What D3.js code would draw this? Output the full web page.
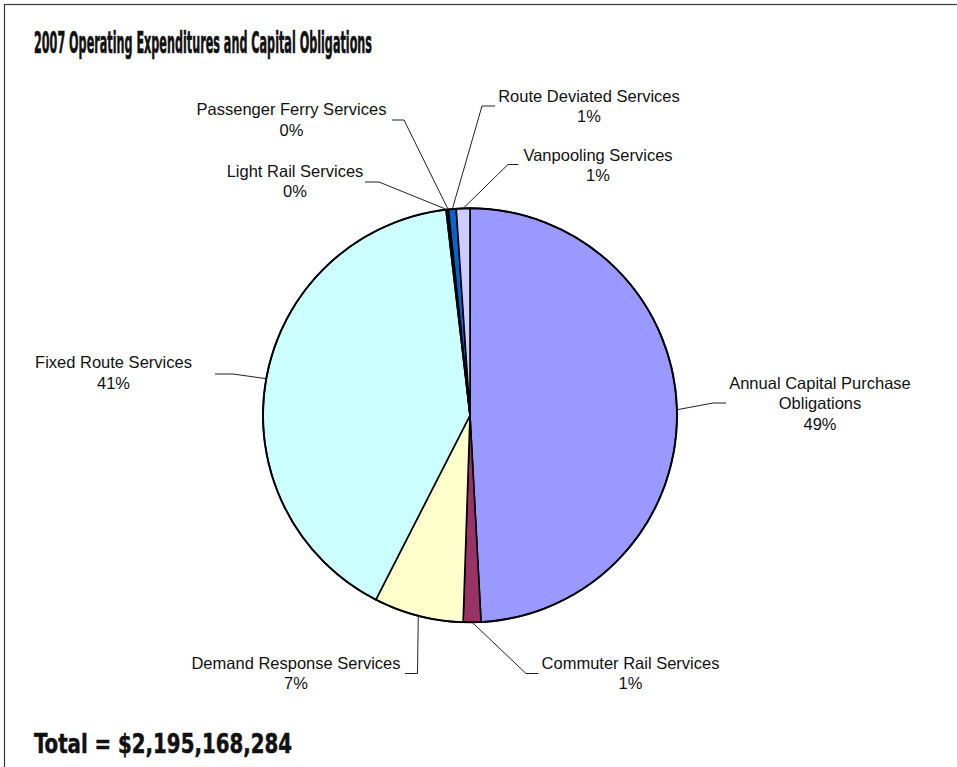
<!DOCTYPE html>
<html>
<head>
<meta charset="utf-8">
<script src="https://cdn.jsdelivr.net/npm/d3@7"></script>
<style>
  html, body { margin: 0; padding: 0; background: #fff; }
  svg { display: block; }
</style>
</head>
<body>
<svg id="chart" width="957" height="767"></svg>
<script>
// Spending categories (alphabetical, as listed in the report)
const categories = [
  "Annual Capital Purchase Obligations",
  "Commuter Rail Services",
  "Demand Response Services",
  "Fixed Route Services",
  "Light Rail Services",
  "Passenger Ferry Services",
  "Route Deviated Services",
  "Vanpooling Services"
];
// Share of the 2007 total, in percent
const shares = [49.15, 1.38, 6.98, 40.64, 0.14, 0.05, 0.6, 1.06];
const sliceColors = ["#9999FF", "#993366", "#FFFFCC", "#CCFFFF", "#660066", "#FF8080", "#0066CC", "#CCCCFF"];
// Label text, split into lines
const labelLines = [
  ["Annual Capital Purchase", "Obligations"],
  ["Commuter Rail Services"],
  ["Demand Response Services"],
  ["Fixed Route Services"],
  ["Light Rail Services"],
  ["Passenger Ferry Services"],
  ["Route Deviated Services"],
  ["Vanpooling Services"]
];
const titleText = "2007 Operating Expenditures and Capital Obligations";
const totalText = "Total = $2,195,168,284";

// Label placement: leader elbow, end of the horizontal run, text centre and first baseline
const labelLayout = [
  { ex: 713, ey: 403, hx: 726, tx: 820, ty: 388.5 },
  { ex: 526, ey: 673.5, hx: 538.5, tx: 630.5, ty: 668.5 },
  { ex: 417.5, ey: 673.5, hx: 405, tx: 296, ty: 668.5 },
  { ex: 233, ey: 374, hx: 215, tx: 113.5, ty: 368 },
  { ex: 379, ey: 182, hx: 365, tx: 295, ty: 176.5 },
  { ex: 404, ey: 120, hx: 392, tx: 291.5, ty: 115 },
  { ex: 482, ey: 106, hx: 495, tx: 589, ty: 101.5 },
  { ex: 508, ey: 164.5, hx: 518.5, tx: 598, ty: 160.5 }
];

const svg = d3.select("#chart");
const W = 957, H = 767;
const cx = 470, cy = 415.3, R = 207;
const labelFont = "'Liberation Sans', Arial, sans-serif";
const headFont = "'Liberation Sans Narrow', 'DejaVu Sans Condensed', 'Liberation Sans', Arial, sans-serif";

// Outer frame
svg.append("rect")
  .attr("x", 4.5).attr("y", 4.5)
  .attr("width", W + 10).attr("height", H + 10)
  .attr("fill", "none")
  .attr("stroke", "#3a3a3a")
  .attr("stroke-width", 1.2);

// Title (heavy condensed face)
svg.append("text")
  .attr("x", 34).attr("y", 53)
  .attr("font-family", headFont)
  .attr("font-weight", "bold")
  .attr("font-size", 30)
  .attr("textLength", 338)
  .attr("lengthAdjust", "spacingAndGlyphs")
  .attr("fill", "#111")
  .attr("stroke", "#111")
  .attr("stroke-width", 0.6)
  .text(titleText);

// Footer total
svg.append("text")
  .attr("x", 34).attr("y", 753)
  .attr("font-family", headFont)
  .attr("font-weight", "bold")
  .attr("font-size", 27)
  .attr("textLength", 258)
  .attr("lengthAdjust", "spacingAndGlyphs")
  .attr("fill", "#111")
  .attr("stroke", "#111")
  .attr("stroke-width", 0.5)
  .text(totalText);

const data = categories.map((c, i) => ({ name: c, value: shares[i], color: sliceColors[i], lines: labelLines[i], layout: labelLayout[i] }));
const totalShare = d3.sum(shares);

const pie = d3.pie().value(d => d.value).sort(null);
const arcs = pie(data);
const arc = d3.arc().innerRadius(0).outerRadius(R);

const g = svg.append("g").attr("transform", `translate(${cx},${cy})`);

g.selectAll("path.slice")
  .data(arcs)
  .join("path")
  .attr("class", "slice")
  .attr("d", arc)
  .attr("fill", d => d.data.color)
  .attr("stroke", "#000")
  .attr("stroke-width", 1.6)
  .attr("stroke-linejoin", "round");

// Rim outline drawn a touch heavier than the slice dividers
g.append("circle")
  .attr("r", R)
  .attr("fill", "none")
  .attr("stroke", "#000")
  .attr("stroke-width", 1.9);

// Leader lines and labels
const lbl = svg.append("g");
arcs.forEach(a => {
  const mid = (a.startAngle + a.endAngle) / 2;
  const rx = cx + R * Math.sin(mid);
  const ry = cy - R * Math.cos(mid);
  const L = a.data.layout;
  lbl.append("polyline")
    .attr("points", [[rx, ry], [L.ex, L.ey], [L.hx, L.ey]].map(p => p.join(",")).join(" "))
    .attr("fill", "none")
    .attr("stroke", "#222")
    .attr("stroke-width", 1);

  const pct = Math.round(a.data.value / totalShare * 100) + "%";
  const lines = a.data.lines.concat([pct]);
  const t = lbl.append("text")
    .attr("font-family", labelFont)
    .attr("font-size", 16.5)
    .attr("fill", "#111")
    .attr("text-anchor", "middle");
  lines.forEach((s, k) => {
    t.append("tspan")
      .attr("x", L.tx)
      .attr("y", L.ty + k * 20.6)
      .text(s);
  });
});
</script>
</body>
</html>
